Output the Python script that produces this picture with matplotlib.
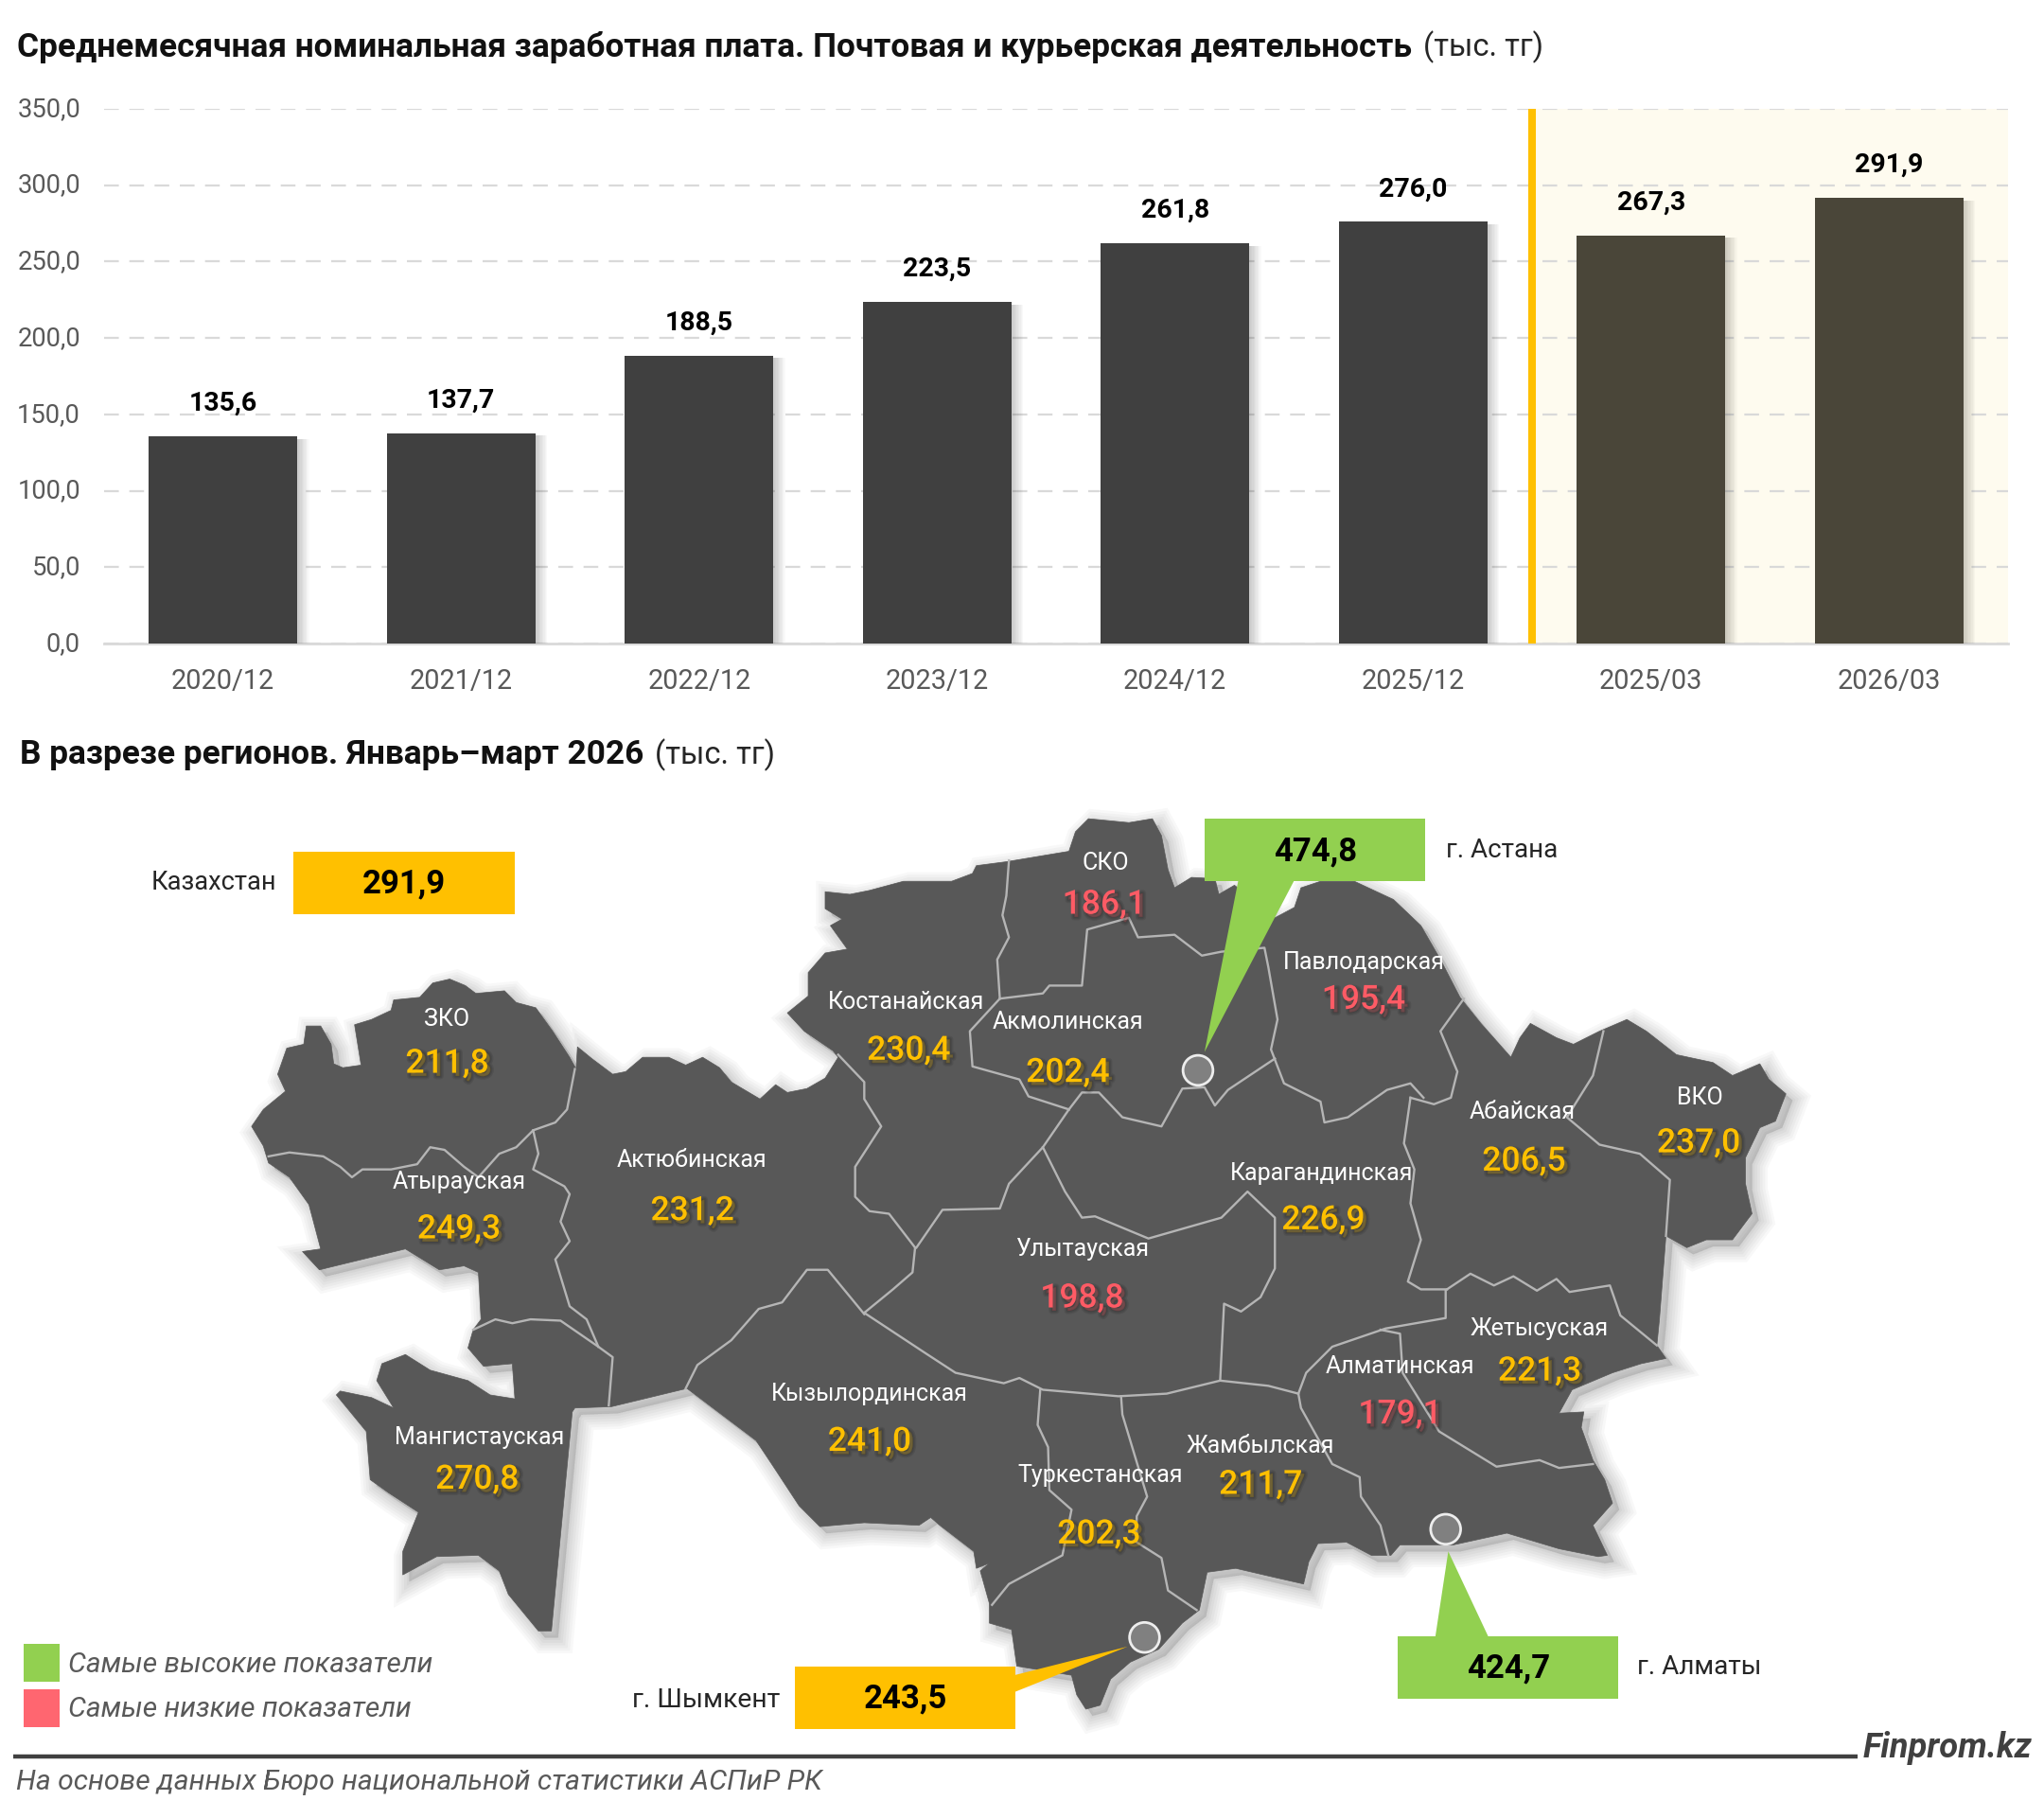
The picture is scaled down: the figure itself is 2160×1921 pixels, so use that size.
import matplotlib
matplotlib.use('Agg')
import matplotlib.pyplot as plt
from matplotlib.patches import Polygon, Rectangle, Ellipse
from matplotlib.transforms import ScaledTranslation
import matplotlib.patheffects as pe

plt.rcParams['font.family'] = ['Roboto', 'DejaVu Sans']

# average wage, thousand tenge
periods = ['2020/12', '2021/12', '2022/12', '2023/12', '2024/12', '2025/12', '2025/03', '2026/03']
wages = [135.6, 137.7, 188.5, 223.5, 261.8, 276.0, 267.3, 291.9]
yticks = [0, 50, 100, 150, 200, 250, 300, 350]

regions = ['ЗКО', 'Атырауская', 'Актюбинская', 'Мангистауская', 'Кызылординская', 'Костанайская',
           'СКО', 'Акмолинская', 'Павлодарская', 'Абайская', 'ВКО', 'Карагандинская',
           'Улытауская', 'Жетысуская', 'Алматинская', 'Жамбылская', 'Туркестанская']
region_values = [211.8, 249.3, 231.2, 270.8, 241.0, 230.4, 186.1, 202.4, 195.4, 206.5, 237.0,
                 226.9, 198.8, 221.3, 179.1, 211.7, 202.3]

country_value = 291.9
astana_value = 474.8
almaty_value = 424.7
shymkent_value = 243.5

# label anchors on the map sheet (name x, name y, value x, value y)
region_pos = [(343, 782, 343, 816), (352, 907, 352, 943), (531, 890, 531, 929), (368, 1103, 366, 1135),
              (667, 1069, 667, 1106), (695, 769, 697, 806), (848, 662, 847, 694), (819, 784, 819, 823),
              (1046, 738, 1046, 767), (1168, 853, 1169, 891), (1304, 842, 1303, 877), (1014, 900, 1015, 936),
              (830, 958, 830, 996), (1181, 1019, 1181, 1052), (1074, 1048, 1074, 1085), (967, 1109, 967, 1139),
              (844, 1132, 843, 1177)]

# country outline, clockwise from the Caspian side
outline = [(193, 864), (202, 851), (219, 837), (213, 824), (220, 804), (233, 801), (235, 787), (246, 787),
           (254, 801), (256, 816), (263, 819), (277, 817), (272, 786), (285, 782), (300, 775), (302, 767),
           (322, 765), (332, 754), (345, 751), (357, 756), (365, 762), (387, 760), (396, 769), (411, 773),
           (424, 791), (437, 811), (442, 820), (443, 803), (454, 812), (470, 824), (480, 822), (493, 811),
           (513, 811), (526, 817), (539, 811), (552, 819), (561, 830), (583, 843), (595, 832), (604, 838),
           (619, 835), (633, 827), (643, 811), (639, 806), (617, 791), (604, 777), (620, 764), (620, 746),
           (633, 731), (650, 728), (637, 710), (646, 705), (633, 697), (633, 684), (652, 686), (667, 683),
           (693, 676), (730, 676), (746, 670), (749, 664), (772, 661), (820, 653), (825, 638), (835, 628),
           (866, 631), (884, 628), (891, 641), (896, 667), (901, 681), (914, 673), (932, 674), (935, 686),
           (947, 679), (978, 704), (993, 696), (998, 681), (1013, 676), (1039, 676), (1069, 690), (1090, 710),
           (1105, 736), (1120, 765), (1136, 785), (1159, 811), (1166, 796), (1174, 785), (1194, 796), (1207, 801),
           (1227, 791), (1248, 782), (1263, 791), (1286, 809), (1314, 815), (1329, 825), (1350, 816), (1357, 828),
           (1370, 839), (1362, 860), (1350, 865), (1339, 888), (1339, 908), (1344, 931), (1329, 951), (1309, 951),
           (1294, 957), (1278, 948), (1273, 1012), (1271, 1032), (1278, 1042), (1259, 1046), (1237, 1053),
           (1206, 1066), (1196, 1084), (1215, 1083), (1213, 1095), (1222, 1120), (1231, 1135), (1237, 1153),
           (1222, 1170), (1233, 1193), (1226, 1194), (1196, 1188), (1156, 1176), (1115, 1185), (1074, 1185),
           (1067, 1193), (1052, 1193), (1033, 1183), (1011, 1184), (1004, 1198), (1000, 1215), (978, 1210),
           (948, 1203), (926, 1206), (920, 1235), (907, 1245), (889, 1265), (867, 1275), (852, 1288), (844, 1308),
           (833, 1311), (826, 1300), (822, 1285), (780, 1278), (776, 1250), (759, 1245), (759, 1230), (752, 1205),
           (759, 1199), (749, 1203), (747, 1190), (721, 1170), (714, 1164), (705, 1170), (663, 1168), (629, 1171),
           (613, 1155), (592, 1123), (580, 1105), (527, 1065), (469, 1079), (441, 1080), (439, 1083), (423, 1251),
           (413, 1251), (390, 1223), (383, 1205), (367, 1193), (335, 1194), (309, 1208), (309, 1190), (321, 1160),
           (298, 1145), (284, 1135), (281, 1098), (258, 1070), (261, 1067), (285, 1072), (302, 1080), (289, 1059),
           (293, 1046), (311, 1039), (330, 1051), (359, 1059), (376, 1070), (395, 1073), (393, 1046), (371, 1048),
           (359, 1034), (363, 1020), (369, 1012), (367, 976), (356, 971), (337, 974), (311, 958), (282, 965),
           (245, 974), (232, 960), (246, 958), (237, 924), (222, 903), (206, 892), (202, 879)]

# borders between oblasts
borders = [
    [(206, 887), (222, 884), (248, 887), (261, 895), (270, 903), (278, 897), (300, 897), (320, 893), (330, 880),
     (341, 882), (356, 895), (367, 903), (383, 885), (396, 880), (409, 867), (426, 861), (435, 851), (441, 820)],
    [(409, 867), (413, 885), (409, 897), (433, 910), (437, 916), (430, 937), (437, 952), (426, 966), (437, 1002),
     (450, 1012), (459, 1033)],
    [(363, 1020), (380, 1012), (393, 1015), (407, 1012), (430, 1013), (459, 1033), (470, 1041), (467, 1078)],
    [(526, 1065), (535, 1047), (561, 1028), (582, 1004), (600, 999), (619, 974), (635, 974), (663, 1008)],
    [(643, 809), (663, 830), (663, 843), (676, 864), (656, 895), (656, 918), (667, 929), (682, 931), (702, 957)],
    [(702, 957), (700, 976), (685, 989), (663, 1007)],
    [(663, 1007), (710, 1038), (733, 1053), (770, 1061), (782, 1057), (800, 1066), (858, 1071), (895, 1069),
     (936, 1059), (973, 1063), (996, 1069)],
    [(936, 1059), (939, 1000), (952, 1006), (967, 995), (978, 973), (978, 934), (957, 914), (937, 934), (881, 950),
     (840, 933), (830, 934), (817, 914), (800, 880)],
    [(703, 957), (723, 928), (767, 927), (774, 908), (800, 880), (820, 851)],
    [(774, 660), (772, 687), (769, 702), (774, 719), (765, 736), (767, 766)],
    [(767, 766), (800, 762), (805, 756), (830, 756), (834, 713), (866, 704), (873, 719), (901, 717), (922, 733),
     (937, 730), (970, 727), (973, 742), (980, 782), (975, 805), (985, 831), (1013, 845), (1016, 861), (1034, 857),
     (1064, 836), (1082, 831), (1092, 842)],
    [(767, 766), (744, 791), (746, 818), (782, 828), (789, 841), (820, 851)],
    [(820, 851), (830, 838), (843, 838), (861, 857), (891, 864), (907, 835), (924, 834), (932, 848), (942, 836),
     (978, 812)],
    [(1123, 766), (1105, 791), (1118, 822), (1113, 842), (1100, 847), (1082, 842)],
    [(1082, 842), (1077, 877), (1085, 897), (1082, 923), (1090, 951), (1080, 983), (1090, 989), (1110, 989)],
    [(1110, 989), (1128, 977), (1146, 986), (1161, 979), (1179, 990), (1194, 981), (1204, 991), (1235, 986),
     (1243, 1009), (1271, 1032)],
    [(1230, 791), (1222, 825), (1202, 857), (1227, 878), (1258, 885), (1281, 905), (1278, 948)],
    [(1109, 990), (1109, 1011), (1063, 1019), (1022, 1033), (1002, 1053), (996, 1069)],
    [(1059, 1020), (1074, 1023), (1076, 1053), (1104, 1098), (1148, 1125), (1181, 1120), (1196, 1126), (1222, 1123)],
    [(996, 1069), (998, 1080), (1022, 1123), (1043, 1133), (1044, 1148), (1059, 1170), (1065, 1193)],
    [(798, 1066), (796, 1093), (804, 1110), (805, 1143), (822, 1158), (815, 1193), (800, 1201), (774, 1215), (761, 1231)],
    [(860, 1071), (861, 1085), (880, 1148), (872, 1163), (872, 1183), (891, 1195), (896, 1220), (918, 1235)],
]


def fmt(v):
    return f'{v:.1f}'.replace('.', ',')


W, H = 2160, 1921
fig = plt.figure(figsize=(W / 100, H / 100), dpi=100, facecolor='white')

###############################################################################
# bar chart

ax = fig.add_axes([110 / W, 1 - 680 / H, 2012 / W, 565 / H])
ax.set_xlim(-0.5, 7.5)
ax.set_ylim(0, 350)
ax.axvspan(5.5, 7.5, color='#FEFBEF', lw=0, zorder=0)
ax.grid(axis='y', color='#D9D9D9', lw=1.6, dashes=(7, 5), zorder=1)
ax.set_axisbelow(True)

colors = ['#404040'] * 6 + ['#4A4639'] * 2
bars = ax.bar(range(len(wages)), wages, width=0.625, color=colors, zorder=3)
for b in bars:
    b.set_path_effects([pe.Stroke(offset=(k, -2), linewidth=0, foreground='#000000', alpha=0.03)
                        for k in (9, 8, 7, 6, 5, 4, 3, 2, 1)] + [pe.Normal()])
ax.axvline(5.5, color='#FFC000', lw=5.8, zorder=4)

for i, v in enumerate(wages):
    ax.annotate(fmt(v), (i, v), xytext=(0, 25), textcoords='offset points', ha='center', va='center',
                fontsize=20.5, fontweight='bold', color='black', zorder=5)

ax.set_xticks(range(len(periods)))
ax.set_xticklabels(periods, fontsize=20.8, color='#595959')
ax.set_yticks(yticks)
ax.set_yticklabels([fmt(t) for t in yticks], fontsize=19.7, color='#595959')
ax.tick_params(axis='both', length=0)
ax.tick_params(axis='x', pad=19)
ax.tick_params(axis='y', pad=18)
for t in ax.get_yticklabels():
    t.set_transform(t.get_transform() + ScaledTranslation(0, 2 / 72, fig.dpi_scale_trans))
for s in ['top', 'left', 'right']:
    ax.spines[s].set_visible(False)
ax.spines['bottom'].set_color('#D9D9D9')
ax.spines['bottom'].set_linewidth(2)

###############################################################################
# map sheet, drawn in a 1568 wide coordinate system

m = fig.add_axes([0, 0, 1, 1])
m.set_xlim(0, 1568)
m.set_ylim(H / (W / 1568), 0)
m.axis('off')
m.patch.set_alpha(0)

m.text(13, 36, 'Среднемесячная номинальная заработная плата. Почтовая и курьерская деятельность',
       fontsize=25.35, fontweight='bold', va='center', color='#111111')
m.text(1092, 36, '(тыс. тг)', fontsize=23.6, va='center', color='#262626')
m.text(15, 579, 'В разрезе регионов. Январь–март 2026', fontsize=25.4, fontweight='bold', va='center', color='#111111')
m.text(502, 579, '(тыс. тг)', fontsize=23.6, va='center', color='#262626')

shadow = [pe.Stroke(offset=(5, -5), linewidth=w, foreground='#000000', alpha=0.028)
          for w in (24, 20, 16, 12, 8, 4, 1)]
m.add_patch(Polygon(outline, closed=True, facecolor='#585858', edgecolor='#585858', lw=0.5, zorder=2,
                    path_effects=shadow + [pe.Normal()]))
for line in borders:
    xs = [p[0] for p in line]
    ys = [p[1] for p in line]
    m.plot(xs, ys, color='#B5B5B5', lw=1.7, zorder=3, solid_joinstyle='round')

text_shadow = [pe.Stroke(offset=(2.5, -2.5), linewidth=w, foreground='#000000', alpha=0.09) for w in (5, 3, 1)]
text_shadow.append(pe.Normal())
for name, v, (nx, ny, vx, vy) in zip(regions, region_values, region_pos):
    m.text(nx, ny, name, color='white', fontsize=18, ha='center', va='center', zorder=6)
    m.text(vx, vy, fmt(v), color='#FF5B65' if v < 200 else '#FFC000', fontsize=25.5, fontweight='medium',
           ha='center', va='center', zorder=6, path_effects=text_shadow)

# cities
for cx, cy in [(919, 821), (1109, 1173), (878, 1256)]:
    m.add_patch(Ellipse((cx, cy), 23, 23, facecolor='#808080', edgecolor='#EDEDED', lw=2, zorder=5))

green = '#92D050'
gold = '#FFC000'

m.add_patch(Rectangle((225, 653), 170, 48, color=gold, lw=0, zorder=7))
m.text(310, 678, fmt(country_value), fontsize=25, fontweight='bold', ha='center', va='center', zorder=8)
m.text(212, 677, 'Казахстан', fontsize=19.6, ha='right', va='center', color='#262626')

m.add_patch(Polygon([(950, 675), (993, 675), (924, 807)], color=green, lw=0, zorder=7))
m.add_patch(Rectangle((924, 628), 169, 48, color=green, lw=0, zorder=7))
m.text(1009, 653, fmt(astana_value), fontsize=25, fontweight='bold', ha='center', va='center', zorder=8)
m.text(1109, 652, 'г. Астана', fontsize=20, va='center', color='#262626')

m.add_patch(Polygon([(1101, 1256), (1142, 1256), (1111, 1190)], color=green, lw=0, zorder=7))
m.add_patch(Rectangle((1072, 1255), 169, 48, color=green, lw=0, zorder=7))
m.text(1157, 1280, fmt(almaty_value), fontsize=25, fontweight='bold', ha='center', va='center', zorder=8)
m.text(1256, 1279, 'г. Алматы', fontsize=20.2, va='center', color='#262626')

m.add_patch(Polygon([(778, 1285), (778, 1298), (865, 1263)], color=gold, lw=0, zorder=7))
m.add_patch(Rectangle((610, 1278), 169, 48, color=gold, lw=0, zorder=7))
m.text(695, 1303, fmt(shymkent_value), fontsize=25, fontweight='bold', ha='center', va='center', zorder=8)
m.text(598, 1304, 'г. Шымкент', fontsize=20.4, ha='right', va='center', color='#262626')

# legend
m.add_patch(Rectangle((18, 1261), 28, 29, color=green, lw=0))
m.add_patch(Rectangle((18, 1296), 28, 29, color='#FF6670', lw=0))
m.text(52, 1277, 'Самые высокие показатели', fontsize=21.5, style='italic', va='center', color='#595959')
m.text(52, 1311, 'Самые низкие показатели', fontsize=21.5, style='italic', va='center', color='#595959')

# footer
m.plot([10, 1425], [1347.5, 1347.5], color='#404040', lw=3.2, solid_capstyle='butt')
m.text(1429, 1341, 'Finprom.kz', fontsize=26.2, fontweight='bold', style='italic', va='center', color='#404040')
m.text(12, 1367, 'На основе данных Бюро национальной статистики АСПиР РК', fontsize=21.7, style='italic',
       va='center', color='#595959')

fig.savefig('out.png', dpi=100)
